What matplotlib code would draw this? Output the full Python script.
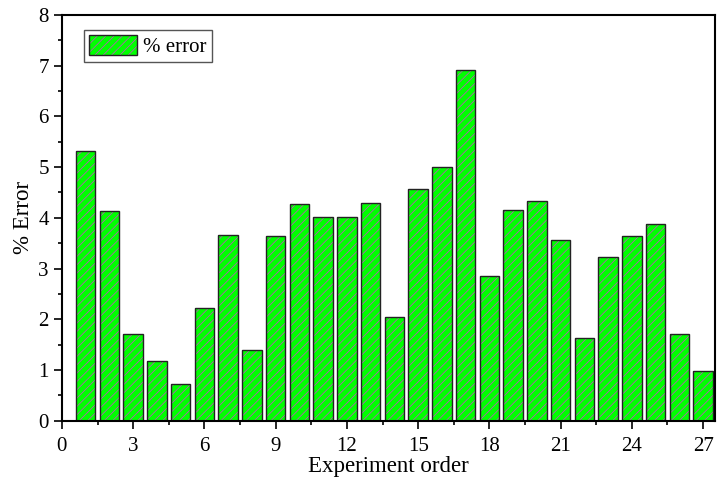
import numpy as np
import matplotlib.pyplot as plt
from matplotlib.ticker import MultipleLocator
from matplotlib.patches import Patch

plt.rcParams['font.family'] = ['Liberation Serif', 'DejaVu Serif']
plt.rcParams['hatch.linewidth'] = 0.6

# Error porcentual de cada experimento
orden = np.arange(1, 28)
error = [5.32, 4.14, 1.72, 1.18, 0.73, 2.23, 3.67, 1.40, 3.65, 4.28,
         4.02, 4.02, 4.30, 2.05, 4.56, 5.00, 6.92, 2.86, 4.16, 4.33,
         3.57, 1.64, 3.23, 3.65, 3.88, 1.71, 0.98]

verde = '#00ff00'
rayado = '#b060b0'
borde = '#222222'

fig = plt.figure(figsize=(7.2, 4.82), dpi=100)
ax = fig.add_axes([0.086, 0.127, 0.907, 0.842])

# relleno verde con rayado, y luego el borde negro encima
ax.bar(orden, error, width=0.82, color=verde, edgecolor=rayado,
       hatch='////', linewidth=0)
ax.bar(orden, error, width=0.82, fill=False, edgecolor=borde, linewidth=1.0)

# handle de la leyenda: dos parches superpuestos (rayado + borde)
h_fondo = Patch(facecolor=verde, edgecolor=rayado, hatch='////', linewidth=0)
h_borde = Patch(fill=False, edgecolor=borde, linewidth=1.0)
ax.legend([(h_fondo, h_borde)], ['% error'], loc='upper left', fontsize=15,
          handlelength=2.3, handleheight=1.1, fancybox=False,
          edgecolor='#555555', borderpad=0.25, handletextpad=0.3,
          borderaxespad=0, bbox_to_anchor=(0.034, 0.963), framealpha=1)

ax.set_xlim(0, 27.5)
ax.set_ylim(0, 8)
ax.xaxis.set_major_locator(MultipleLocator(3))
ax.xaxis.set_minor_locator(MultipleLocator(1.5))
ax.yaxis.set_major_locator(MultipleLocator(1))
ax.yaxis.set_minor_locator(MultipleLocator(0.5))
ax.tick_params(which='major', direction='out', length=5.5, width=1.2,
               labelsize=15, pad=4)
ax.tick_params(axis='x', which='major', pad=6)
ax.tick_params(which='minor', direction='out', length=3, width=1.2)
for s in ax.spines.values():
    s.set_linewidth(1.5)

ax.set_xlabel('Experiment order', fontsize=16.5, labelpad=0)
ax.set_ylabel('% Error', fontsize=16.5, labelpad=3)

fig.savefig('out.png', dpi=100)
